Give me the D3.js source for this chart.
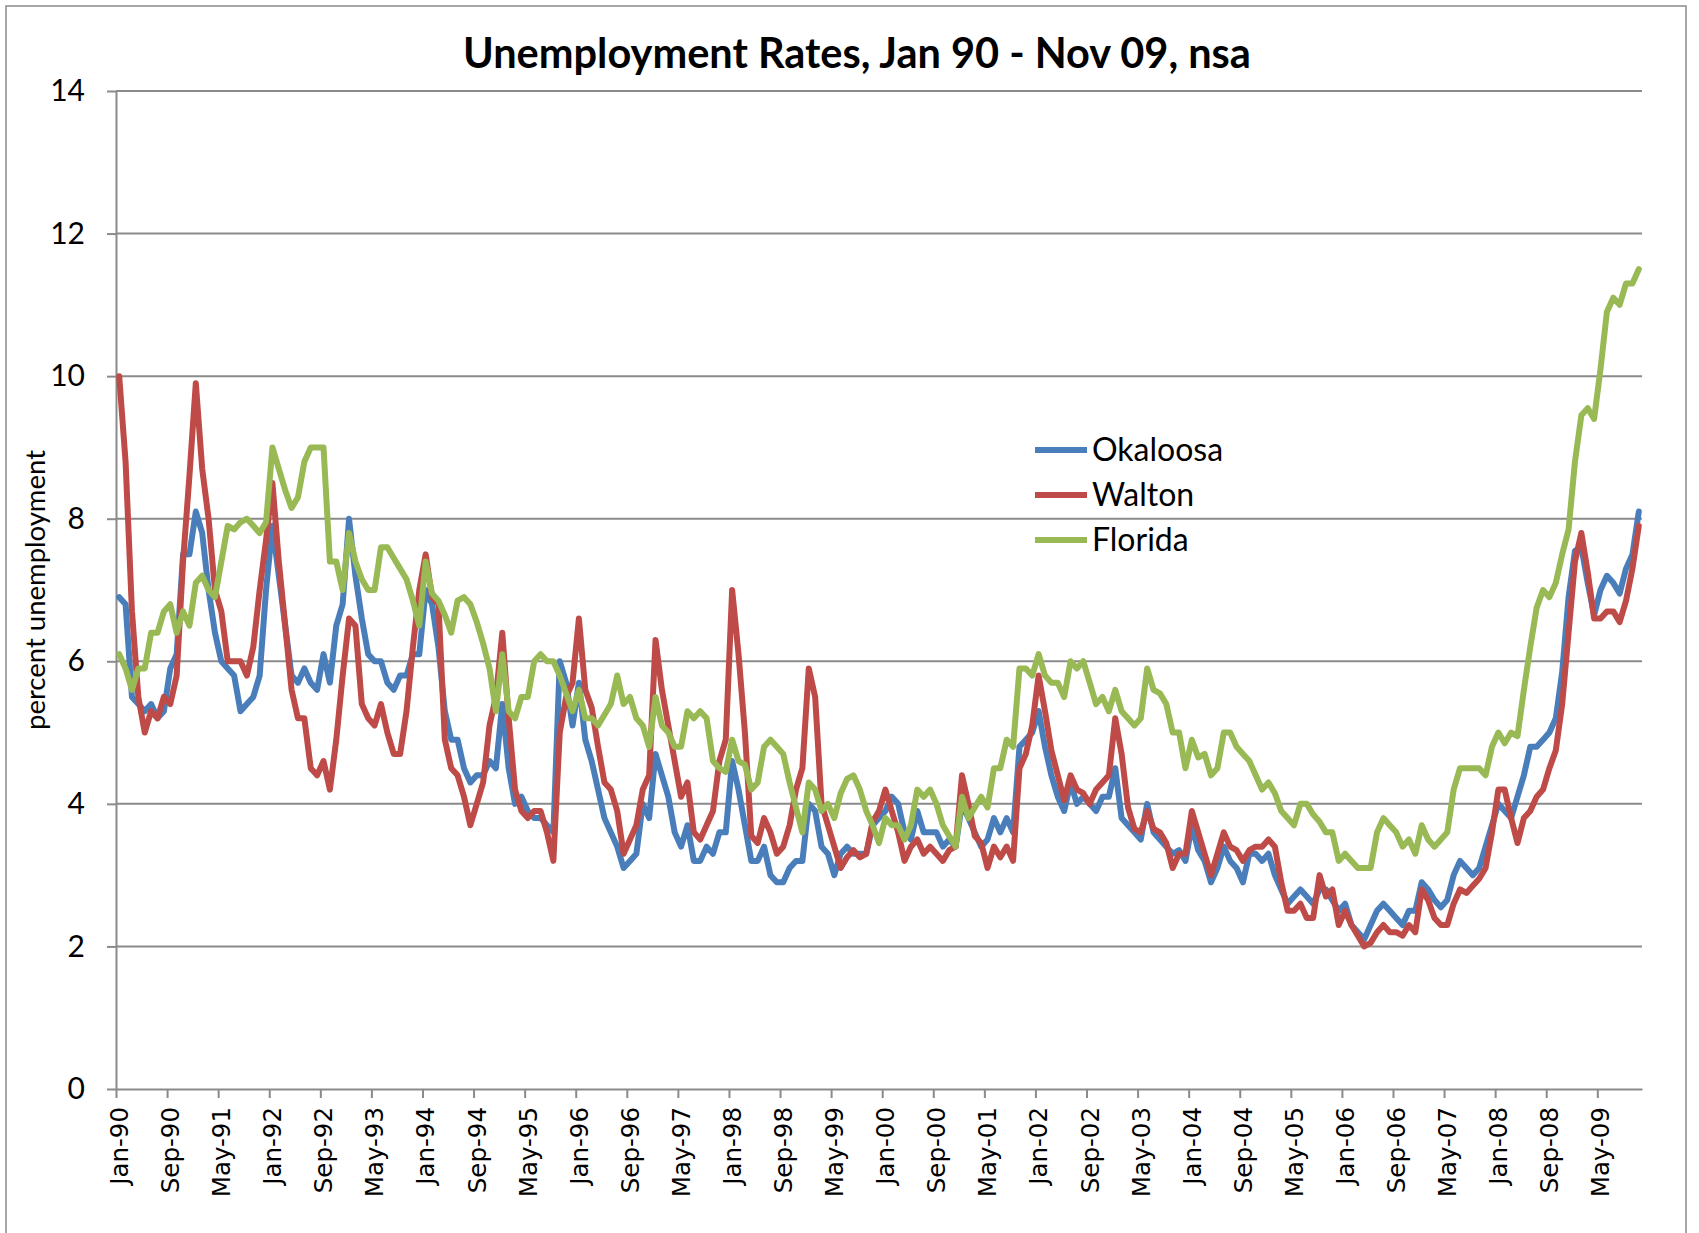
<!DOCTYPE html>
<html>
<head>
<meta charset="utf-8">
<script src="https://cdn.jsdelivr.net/npm/d3@7"></script>
<style>
  body { margin: 0; background: #fff; }
  .grid line { stroke: #8a8a8a; stroke-width: 2; }
  .axis path, .axis line { stroke: #8a8a8a; stroke-width: 2; }
  .series { fill: none; stroke-width: 6; stroke-linejoin: round; stroke-linecap: round; }
</style>
</head>
<body>
<div id="chart"></div>
<script>
// monthly values, Jan 90 - Nov 09
var okaloosa = [
  6.9, 6.8, 5.5, 5.4, 5.3, 5.4, 5.2, 5.3, 5.9, 6.1,
  7.5, 7.5, 8.1, 7.8, 7.0, 6.4, 6.0, 5.9, 5.8, 5.3,
  5.4, 5.5, 5.8, 7.0, 7.9, 7.2, 6.5, 5.8, 5.7, 5.9,
  5.7, 5.6, 6.1, 5.7, 6.5, 6.8, 8.0, 7.2, 6.6, 6.1,
  6.0, 6.0, 5.7, 5.6, 5.8, 5.8, 6.1, 6.1, 7.0, 6.8,
  6.2, 5.3, 4.9, 4.9, 4.5, 4.3, 4.4, 4.4, 4.6, 4.5,
  5.4, 4.5, 4.0, 4.1, 3.9, 3.8, 3.8, 3.7, 3.6, 6.0,
  5.7, 5.1, 5.7, 4.9, 4.6, 4.2, 3.8, 3.6, 3.4, 3.1,
  3.2, 3.3, 4.0, 3.8, 4.7, 4.4, 4.1, 3.6, 3.4, 3.7,
  3.2, 3.2, 3.4, 3.3, 3.6, 3.6, 4.6, 4.2, 3.7, 3.2,
  3.2, 3.4, 3.0, 2.9, 2.9, 3.1, 3.2, 3.2, 4.0, 3.9,
  3.4, 3.3, 3.0, 3.3, 3.4, 3.3, 3.3, 3.3, 3.7, 3.8,
  3.9, 4.1, 4.0, 3.6, 3.5, 3.9, 3.6, 3.6, 3.6, 3.4,
  3.5, 3.4, 4.0, 3.8, 3.6, 3.4, 3.5, 3.8, 3.6, 3.8,
  3.6, 4.8, 4.9, 5.0, 5.3, 4.8, 4.4, 4.1, 3.9, 4.3,
  4.0, 4.1, 4.0, 3.9, 4.1, 4.1, 4.5, 3.8, 3.7, 3.6,
  3.5, 4.0, 3.6, 3.5, 3.4, 3.3, 3.35, 3.2, 3.7, 3.35,
  3.2, 2.9, 3.1, 3.4, 3.2, 3.1, 2.9, 3.3, 3.3, 3.2,
  3.3, 3.0, 2.8, 2.6, 2.7, 2.8, 2.7, 2.6, 2.8, 2.8,
  2.65, 2.5, 2.6, 2.3, 2.2, 2.1, 2.3, 2.5, 2.6, 2.5,
  2.4, 2.3, 2.5, 2.5, 2.9, 2.8, 2.65, 2.55, 2.65, 3.0,
  3.2, 3.1, 3.0, 3.1, 3.4, 3.7, 4.0, 3.9, 3.8, 4.1,
  4.4, 4.8, 4.8, 4.9, 5.0, 5.2, 5.85, 6.9, 7.55, 7.6,
  7.1, 6.65, 7.0, 7.2, 7.1, 6.95, 7.3, 7.5, 8.1
];
var walton = [
  10.0, 8.8, 6.7, 5.5, 5.0, 5.3, 5.2, 5.5, 5.4, 5.8,
  7.4, 8.6, 9.9, 8.7, 8.0, 7.0, 6.7, 6.0, 6.0, 6.0,
  5.8, 6.2, 7.0, 7.7, 8.5, 7.4, 6.5, 5.6, 5.2, 5.2,
  4.5, 4.4, 4.6, 4.2, 4.9, 5.8, 6.6, 6.5, 5.4, 5.2,
  5.1, 5.4, 5.0, 4.7, 4.7, 5.3, 6.2, 7.0, 7.5, 6.9,
  6.8, 4.9, 4.5, 4.4, 4.1, 3.7, 4.0, 4.3, 5.1, 5.5,
  6.4, 5.2, 4.2, 3.9, 3.8, 3.9, 3.9, 3.6, 3.2, 5.0,
  5.5, 5.7, 6.6, 5.6, 5.35, 4.8, 4.3, 4.2, 3.9, 3.3,
  3.5, 3.7, 4.2, 4.4, 6.3, 5.6, 5.1, 4.6, 4.1, 4.3,
  3.6, 3.5, 3.7, 3.9, 4.6, 4.9, 7.0, 6.1, 5.0, 3.55,
  3.45, 3.8, 3.6, 3.3, 3.4, 3.7, 4.2, 4.5, 5.9, 5.5,
  4.0, 3.7, 3.4, 3.1, 3.25, 3.35, 3.25, 3.3, 3.75, 3.9,
  4.2, 3.9, 3.6, 3.2, 3.4, 3.5, 3.3, 3.4, 3.3, 3.2,
  3.35, 3.4, 4.4, 4.0, 3.55, 3.45, 3.1, 3.4, 3.25, 3.4,
  3.2, 4.5, 4.7, 5.1, 5.8, 5.3, 4.75, 4.4, 4.05, 4.4,
  4.2, 4.15, 4.0, 4.2, 4.3, 4.4, 5.2, 4.7, 3.95, 3.65,
  3.6, 3.9, 3.65, 3.6, 3.45, 3.1, 3.3, 3.3, 3.9, 3.6,
  3.3, 3.0, 3.3, 3.6, 3.4, 3.35, 3.2, 3.35, 3.4, 3.4,
  3.5, 3.4, 2.9, 2.5, 2.5, 2.6, 2.4, 2.4, 3.0, 2.7,
  2.8, 2.3, 2.5, 2.3, 2.15, 2.0, 2.05, 2.2, 2.3, 2.2,
  2.2, 2.15, 2.3, 2.2, 2.8, 2.65, 2.4, 2.3, 2.3, 2.6,
  2.8, 2.75, 2.85, 2.95, 3.1, 3.6, 4.2, 4.2, 3.8, 3.45,
  3.8, 3.9, 4.1, 4.2, 4.5, 4.75, 5.4, 6.4, 7.4, 7.8,
  7.25, 6.6, 6.6, 6.7, 6.7, 6.55, 6.85, 7.3, 7.9
];
var florida = [
  6.1, 5.9, 5.6, 5.9, 5.9, 6.4, 6.4, 6.7, 6.8, 6.4,
  6.7, 6.5, 7.1, 7.2, 7.0, 6.9, 7.4, 7.9, 7.85, 7.95,
  8.0, 7.9, 7.8, 7.95, 9.0, 8.7, 8.4, 8.15, 8.3, 8.8,
  9.0, 9.0, 9.0, 7.4, 7.4, 7.0, 7.8, 7.4, 7.15, 7.0,
  7.0, 7.6, 7.6, 7.45, 7.3, 7.15, 6.85, 6.5, 7.4, 6.95,
  6.85, 6.65, 6.4, 6.85, 6.9, 6.8, 6.55, 6.25, 5.9, 5.3,
  6.1, 5.3, 5.2, 5.5, 5.5, 6.0, 6.1, 6.0, 6.0, 5.8,
  5.55, 5.3, 5.6, 5.2, 5.2, 5.1, 5.25, 5.4, 5.8, 5.4,
  5.5, 5.2, 5.1, 4.8, 5.5, 5.1, 5.0, 4.8, 4.8, 5.3,
  5.2, 5.3, 5.2, 4.6, 4.5, 4.45, 4.9, 4.6, 4.55, 4.2,
  4.3, 4.8, 4.9, 4.8, 4.7, 4.3, 3.95, 3.6, 4.3, 4.2,
  3.9, 4.0, 3.8, 4.15, 4.35, 4.4, 4.2, 3.9, 3.7, 3.45,
  3.8, 3.7, 3.7, 3.5, 3.7, 4.2, 4.1, 4.2, 4.0, 3.7,
  3.55, 3.4, 4.1, 3.8, 3.95, 4.1, 3.95, 4.5, 4.5, 4.9,
  4.8, 5.9, 5.9, 5.8, 6.1, 5.8, 5.7, 5.7, 5.5, 6.0,
  5.9, 6.0, 5.7, 5.4, 5.5, 5.3, 5.6, 5.3, 5.2, 5.1,
  5.2, 5.9, 5.6, 5.55, 5.4, 5.0, 5.0, 4.5, 4.9, 4.65,
  4.7, 4.4, 4.5, 5.0, 5.0, 4.8, 4.7, 4.6, 4.4, 4.2,
  4.3, 4.15, 3.9, 3.8, 3.7, 4.0, 4.0, 3.85, 3.75, 3.6,
  3.6, 3.2, 3.3, 3.2, 3.1, 3.1, 3.1, 3.6, 3.8, 3.7,
  3.6, 3.4, 3.5, 3.3, 3.7, 3.5, 3.4, 3.5, 3.6, 4.2,
  4.5, 4.5, 4.5, 4.5, 4.4, 4.8, 5.0, 4.85, 5.0, 4.95,
  5.6, 6.2, 6.75, 7.0, 6.9, 7.1, 7.5, 7.85, 8.8, 9.45,
  9.55, 9.4, 10.1, 10.9, 11.1, 11.0, 11.3, 11.3, 11.5
];

var tickLabels = ["Jan-90", "Sep-90", "May-91", "Jan-92", "Sep-92", "May-93",
  "Jan-94", "Sep-94", "May-95", "Jan-96", "Sep-96", "May-97", "Jan-98", "Sep-98",
  "May-99", "Jan-00", "Sep-00", "May-01", "Jan-02", "Sep-02", "May-03", "Jan-04",
  "Sep-04", "May-05", "Jan-06", "Sep-06", "May-07", "Jan-08", "Sep-08", "May-09"];
var yTicks = [0, 2, 4, 6, 8, 10, 12, 14];
var seriesNames = ["Okaloosa", "Walton", "Florida"];
var seriesColors = ["#4a7ebb", "#be4b48", "#98b954"];

var w = 1699,
    h = 1233,
    plotLeft = 116, plotRight = 1642,
    plotTop = 91, plotBottom = 1089,
    tickEvery = 8,
    nMonths = okaloosa.length;

var svg = d3.select("#chart")
    .append("svg")
    .attr("width", w)
    .attr("height", h);

// chart frame
svg.append("rect")
    .attr("x", 6).attr("y", 6)
    .attr("width", 1680).attr("height", 1300)
    .attr("fill", "none")
    .attr("stroke", "#8a8a8a")
    .attr("stroke-width", 1.5);

// category edges on a linear scale, points sit in the middle of each month
var x = d3.scaleLinear().domain([0, nMonths]).range([plotLeft, plotRight]);
var y = d3.scaleLinear().domain([0, 14]).range([plotBottom, plotTop]);

svg.append("g")
    .attr("class", "grid")
    .selectAll("line")
    .data(yTicks.filter(function(d) { return d > 0; }))
    .enter().append("line")
    .attr("x1", plotLeft).attr("x2", plotRight)
    .attr("y1", function(d) { return y(d); })
    .attr("y2", function(d) { return y(d); });

// y axis
var yAxis = svg.append("g")
    .attr("class", "axis")
    .attr("transform", "translate(" + plotLeft + ",0)")
    .call(d3.axisLeft(y).tickValues(yTicks).tickSize(9).tickPadding(22).tickSizeOuter(0));
yAxis.selectAll("text")
    .attr("font-family", "Lato, 'Open Sans', sans-serif")
    .attr("font-size", 30)
    .attr("fill", "#000");

// x axis: tick marks on category edges, labels centred on the category
var tickIdx = d3.range(0, nMonths, tickEvery);
svg.append("g")
    .attr("class", "axis")
    .attr("transform", "translate(0," + plotBottom + ")")
    .call(d3.axisBottom(x).tickValues(tickIdx).tickSize(9).tickSizeOuter(0).tickFormat(""));

svg.append("g")
    .selectAll("text")
    .data(tickIdx)
    .enter().append("text")
    .attr("transform", function(d) {
        return "translate(" + x(d + 0.5) + "," + (plotBottom + 18) + ") rotate(-90)";
    })
    .attr("text-anchor", "end")
    .attr("dy", "0.36em")
    .attr("font-family", "'DejaVu Sans', sans-serif")
    .attr("font-size", 24.5)
    .text(function(d, i) { return tickLabels[i]; });

// lines
var line = d3.line()
    .x(function(d, i) { return x(i + 0.5); })
    .y(function(d) { return y(d); });

[okaloosa, walton, florida].forEach(function(s, k) {
    svg.append("path")
        .datum(s)
        .attr("class", "series")
        .attr("stroke", seriesColors[k])
        .attr("d", line);
});

// title
svg.append("text")
    .attr("x", 857).attr("y", 68)
    .attr("text-anchor", "middle")
    .attr("font-family", "Lato, 'Open Sans', sans-serif")
    .attr("font-weight", "bold")
    .attr("font-size", 41.5)
    .text("Unemployment Rates, Jan 90 - Nov 09, nsa");

// y axis title
svg.append("text")
    .attr("transform", "translate(35,590) rotate(-90)")
    .attr("text-anchor", "middle")
    .attr("dy", "0.35em")
    .attr("font-family", "Lato, 'Open Sans', sans-serif")
    .attr("font-size", 27.5)
    .text("percent unemployment");

// legend
var legend = svg.append("g")
    .selectAll("g")
    .data(seriesNames)
    .enter().append("g")
    .attr("transform", function(d, i) { return "translate(1035," + (450 + i * 45) + ")"; });
legend.append("line")
    .attr("x1", 0).attr("x2", 52)
    .attr("stroke", function(d, i) { return seriesColors[i]; })
    .attr("stroke-width", 6);
legend.append("text")
    .attr("x", 57)
    .attr("dy", "0.35em")
    .attr("font-family", "Lato, 'Open Sans', sans-serif")
    .attr("font-size", 32)
    .text(function(d) { return d; });
</script>
</body>
</html>
